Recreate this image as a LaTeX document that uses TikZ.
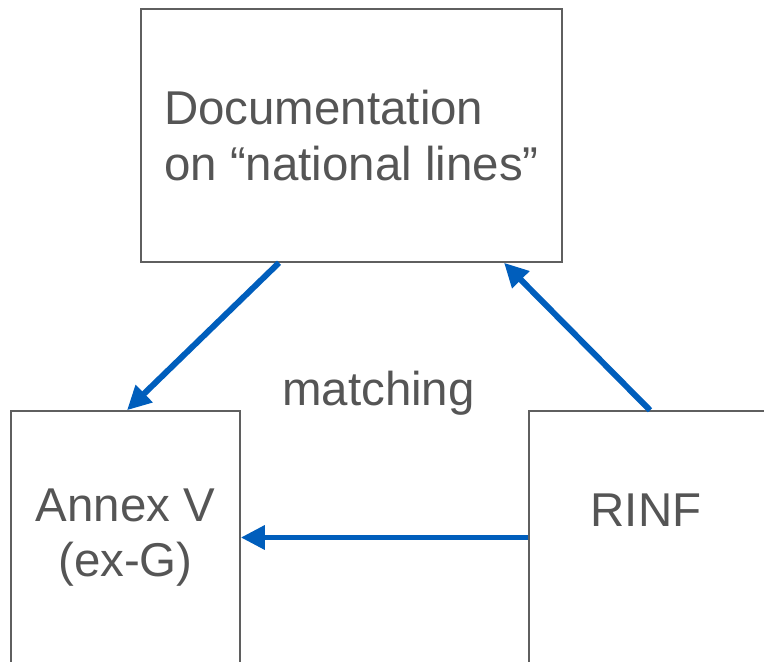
\documentclass[tikz,border=0pt]{standalone}
\usepackage{fontspec}
\setmainfont{Liberation Sans}
\usepackage{xcolor}
\usepackage{tikz}
\usetikzlibrary{arrows.meta,positioning}
\definecolor{flow}{RGB}{0,94,188}
\definecolor{frame}{RGB}{95,95,95}
\definecolor{ink}{RGB}{85,85,85}

\begin{document}
\begin{tikzpicture}[
  box/.style={draw=frame, line width=0.85pt, minimum width=#1, minimum height=5.06cm,
    inner sep=0pt, text=ink, font=\fontsize{27}{31.7}\selectfont, align=center},
  caption/.style={text=ink, font=\fontsize{27}{31.7}\selectfont, inner sep=0pt},
  arrow/.style={draw=flow, line width=3.4pt, -{Triangle[length=0.48cm, width=0.46cm]}}
]
\clip (0,0) rectangle (15.28,13.22);

\node[box=8.42cm, align=left] (docs) at (7.03,10.51) {Documentation\\on “national lines”};
\node[box=4.58cm] (annex) at (2.51,2.47) {Annex V\\(ex-G)};
\node[box=4.72cm] (rinf) at (12.94,2.47) {};
\node[caption, anchor=base] (rinflabel) at (12.92,2.70) {RINF};
\node[caption, anchor=base] (match) at (7.57,5.10) {matching};

\draw[arrow] ([xshift=-1.45cm]docs.south) -- ([xshift=0.03cm]annex.north);
\draw[arrow] ([xshift=0.06cm]rinf.north) -- ([xshift=3.05cm]docs.south);
\draw[arrow] (rinf.west) -- (annex.east);
\end{tikzpicture}
\end{document}
